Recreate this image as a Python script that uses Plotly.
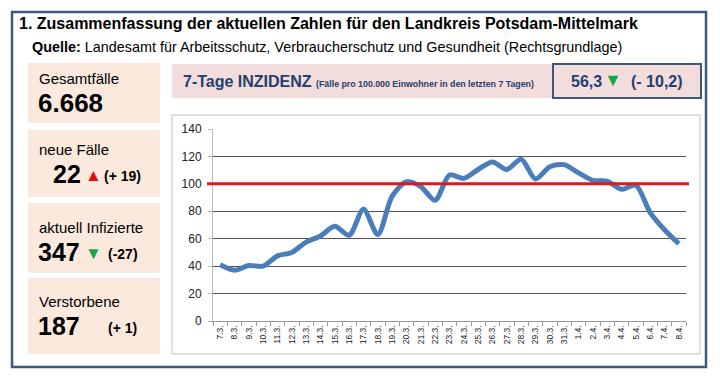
import plotly.graph_objects as go

dates = ["7.3.", "8.3.", "9.3.", "10.3.", "11.3.", "12.3.", "13.3.", "14.3.", "15.3.", "16.3.",
         "17.3.", "18.3.", "19.3.", "20.3.", "21.3.", "22.3.", "23.3.", "24.3.", "25.3.", "26.3.",
         "27.3.", "28.3.", "29.3.", "30.3.", "31.3.", "1.4.", "2.4.", "3.4.", "4.4.", "5.4.",
         "6.4.", "7.4.", "8.4."]
incidence = [41, 37, 40.5, 40, 47.5, 50, 57.5, 62, 69, 62.5,
             81.5, 63, 91, 101.5, 98, 88, 106.5, 104, 110.5, 116,
             110.5, 118, 103.5, 112.5, 114, 108, 102.5, 102, 96, 99,
             79, 66.5, 56.3]
threshold = 100
y_ticks = [0, 20, 40, 60, 80, 100, 120, 140]

# page has an 8px body margin; the figure is sized to fill the rest of the window
OFF = 8
W, H = 720 - OFF, 382 - OFF
# plot area in window pixels: x 213..686, y 129..321
L, R, T, B = 213 - OFF, 720 - 686, 129 - OFF, 382 - 321
PW, PH = W - L - R, H - T - B


def px(x):
    return (x - OFF - L) / PW


def py(y):
    return (H - B - (y - OFF)) / PH


FONT = "Liberation Sans, Arial, sans-serif"
DARK = "#24406e"

fig = go.Figure()
fig.add_trace(go.Scatter(
    x=dates, y=incidence, mode="lines",
    line=dict(color="#4a7ebb", width=5, shape="spline", smoothing=0.8),
    hoverinfo="x+y", showlegend=False))

shapes = [
    dict(type="rect", xref="paper", yref="paper", x0=px(12), x1=px(706), y0=py(12), y1=py(367),
         line=dict(color="#3e5878", width=2.5), fillcolor="rgba(0,0,0,0)", layer="below"),
    dict(type="rect", xref="paper", yref="paper", x0=px(172), x1=px(700), y0=py(115), y1=py(354),
         line=dict(color="#c0c0c0", width=1), fillcolor="white", layer="below"),
    dict(type="rect", xref="paper", yref="paper", x0=px(172), x1=px(701), y0=py(64), y1=py(98),
         line=dict(width=0), fillcolor="#f2dcdc", layer="below"),
    dict(type="rect", xref="paper", yref="paper", x0=px(553), x1=px(701), y0=py(64), y1=py(98),
         line=dict(color="#3e5878", width=2), fillcolor="#f2dcdc", layer="below"),
    dict(type="line", xref="paper", yref="y", x0=px(207), x1=px(689), y0=threshold, y1=threshold,
         line=dict(color="#e3161e", width=3), layer="above"),
]
boxes = [(63, 123), (130, 197), (203, 273), (278, 354)]
for y0, y1 in boxes:
    shapes.append(dict(type="rect", xref="paper", yref="paper", x0=px(28), x1=px(160),
                       y0=py(y0), y1=py(y1), line=dict(width=0), fillcolor="#fbe9de", layer="below"))

ann = []


def text(x, y, s, size, color="black", anchor="left", bold=False):
    if bold:
        s = "<b>" + s + "</b>"
    ann.append(dict(xref="paper", yref="paper", x=px(x), y=py(y), text=s, showarrow=False,
                    xanchor=anchor, yanchor="middle", font=dict(family=FONT, size=size, color=color)))


text(17, 23, "1. Zusammenfassung der aktuellen Zahlen für den Landkreis Potsdam-Mittelmark", 16, bold=True)
text(30, 47, "<b>Quelle:</b> Landesamt für Arbeitsschutz, Verbraucherschutz und Gesundheit (Rechtsgrundlage)", 14.4)

text(37, 79, "Gesamtfälle", 15)
text(36, 103, "6.668", 26, bold=True)
text(37, 149, "neue Fälle", 15)
text(51, 174, "22", 25, bold=True)
text(94, 175, "▲", 17, color="#e01010", anchor="center")
text(102, 176, "(+ 19)", 14, bold=True)
text(37, 227, "aktuell Infizierte", 15)
text(36, 252, "347", 25, bold=True)
text(94, 253, "▼", 17, color="#16a64a", anchor="center")
text(106, 254, "(-27)", 14, bold=True)
text(37, 301, "Verstorbene", 15)
text(36, 326, "187", 25, bold=True)
text(106, 328, "(+ 1)", 14, bold=True)

text(181, 81, "<b>7-Tage INZIDENZ</b> <b><span style='font-size:8.8px'>(Fälle pro 100.000 Einwohner in den letzten 7 Tagen)</span></b>", 16, color=DARK)
text(569, 81, "56,3", 16, color=DARK, bold=True)
text(613, 80, "▼", 18, color="#16a64a", anchor="center")
text(629, 81, "(- 10,2)", 16, color=DARK, bold=True)

fig.update_layout(
    width=W, height=H, margin=dict(l=L, r=R, t=T, b=B, autoexpand=False),
    paper_bgcolor="white", plot_bgcolor="rgba(0,0,0,0)",
    shapes=shapes, annotations=ann,
    xaxis=dict(type="category", tickangle=-90, tickfont=dict(family=FONT, size=8.5, color="#222"),
               showgrid=False, showline=True, linecolor="#9a9a9a", ticks="outside", ticklen=4,
               tickcolor="#9a9a9a", tickson="boundaries", range=[-0.5, len(dates) - 0.5]),
    yaxis=dict(range=[0, 140], tickvals=y_ticks, tickfont=dict(family=FONT, size=12, color="#222"),
               showgrid=True, gridcolor="#555555", gridwidth=1, showline=True, linecolor="#b8b8b8",
               ticks="outside", ticklen=4, tickcolor="#b8b8b8", zeroline=False, ticklabelstandoff=4),
)
fig.write_html("out.html")
